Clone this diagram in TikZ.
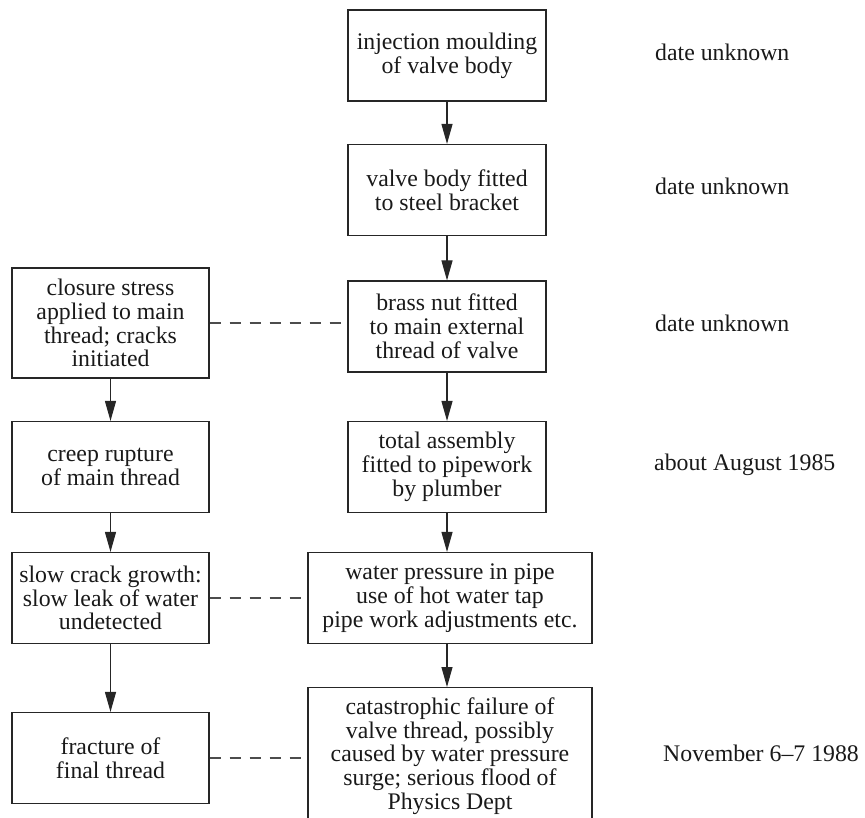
\documentclass[tikz,border=0pt]{standalone}
\usepackage{fontspec}
\setmainfont{Liberation Serif}
\usetikzlibrary{arrows.meta}
\begin{document}
\begin{tikzpicture}[x=1pt,y=-1pt,
  every node/.style={font=\fontsize{23.8}{23.8}\selectfont, text=black!90},
  box/.style={draw=black!85, line width=1.1pt, align=center, inner sep=0pt, minimum height=91pt},
  narrowbox/.style={box, minimum width=198pt},
  widebox/.style={box, minimum width=284pt},
  leftbox/.style={box, minimum width=197pt},
  flow/.style={draw=black!85, line width=1.1pt, -{Triangle[length=20pt,width=11pt]}},
  link/.style={draw=black!70, line width=1.1pt, dash pattern=on 11pt off 9pt},
  datelabel/.style={anchor=base west, inner sep=0pt}]
\useasboundingbox (0,0) rectangle (865,818);
\clip (0,0) rectangle (865,818);

% right column
\node[narrowbox] (A) at (447,55.5) {injection moulding\\of valve body};
\node[narrowbox] (B) at (447,190) {valve body fitted\\to steel bracket};
\node[narrowbox] (C) at (447,326.5) {brass nut fitted\\to main external\\thread of valve};
\node[narrowbox] (D) at (447,467) {total assembly\\fitted to pipework\\by plumber};
\node[widebox] (E) at (450,598) {water pressure in pipe\\use of hot water tap\\pipe work adjustments etc.};
\node[box, minimum width=284pt, minimum height=0pt, inner ysep=10pt, anchor=north] (F) at (450,687)
  {catastrophic failure of\\valve thread, possibly\\caused by water pressure\\surge; serious flood of\\Physics Dept};

% left column
\node[leftbox, minimum height=110pt] (L1) at (110.5,323) {closure stress\\applied to main\\thread; cracks\\initiated};
\node[leftbox] (L2) at (110.5,467) {creep rupture\\of main thread};
\node[leftbox] (L3) at (110.5,598) {slow crack growth:\\slow leak of water\\undetected};
\node[leftbox] (L4) at (110.5,758) {fracture of\\final thread};

% arrows
\draw[flow] (A.south) -- (B.north);
\draw[flow] (B.south) -- (C.north);
\draw[flow] (C.south) -- (D.north);
\draw[flow] (D.south) -- (D.south |- E.north);
\draw[flow] (E.south -| D.south) -- (F.north -| D.south);
\draw[flow] (L1.south) -- (L2.north);
\draw[flow] (L2.south) -- (L3.north);
\draw[flow] (L3.south) -- (L4.north);

% dashed links
\draw[link] (L1.east) -- (L1.east -| C.west);
\draw[link] (L3.east) -- (L3.east -| E.west);
\draw[link] (L4.east) -- (L4.east -| F.west);

% dates
\node[datelabel] (d1) at (655,60.5) {date unknown};
\node[datelabel] (d2) at (655,195) {date unknown};
\node[datelabel] (d3) at (655,331.5) {date unknown};
\node[datelabel] (d4) at (654,470) {about August 1985};
\node[datelabel] (d5) at (663,761.5) {November 6–7 1988};
\end{tikzpicture}
\end{document}
